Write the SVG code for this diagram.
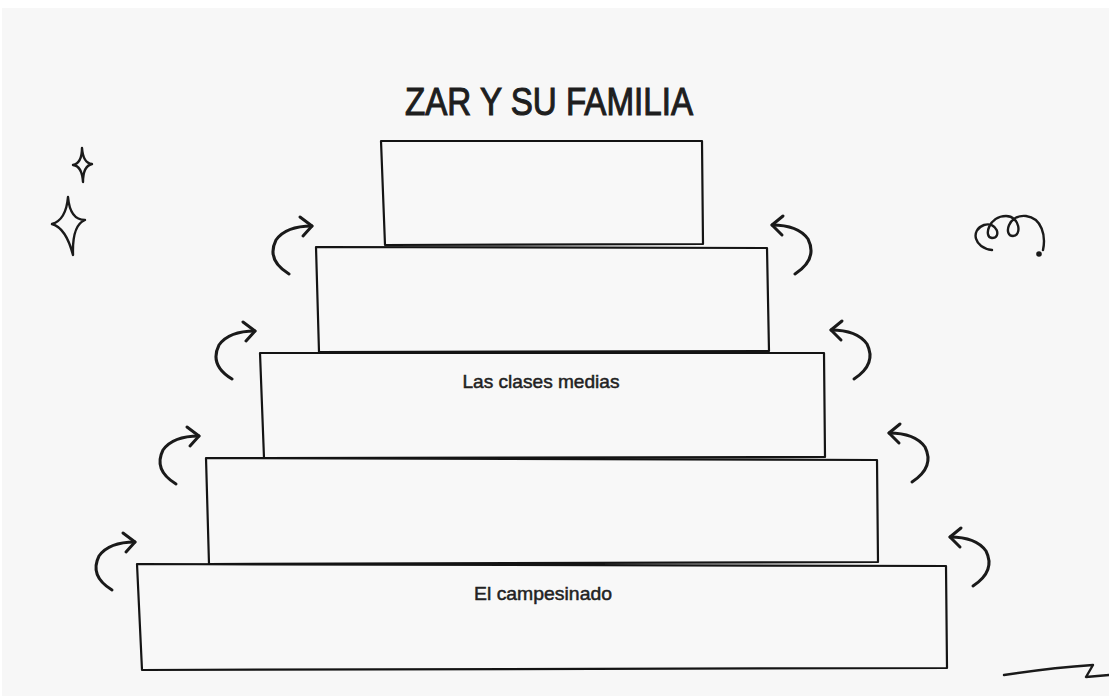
<svg xmlns="http://www.w3.org/2000/svg" width="1109" height="696" viewBox="0 0 1109 696">
<defs>
<style>
.box{fill:#f8f8f8;stroke:#141414;stroke-width:2.2;stroke-linejoin:round}
.ink{fill:none;stroke:#1a1a1a;stroke-width:3;stroke-linecap:round;stroke-linejoin:round}
.lbl{font-family:"Liberation Sans",Arial,sans-serif;font-size:19px;fill:#222;text-anchor:middle;stroke:#222;stroke-width:0.5}
.title{font-family:"Liberation Sans",Arial,sans-serif;font-size:38px;fill:#1e1e1e;text-anchor:middle;stroke:#1e1e1e;stroke-width:1.1}
</style>
<g id="arrowL"><path d="M -23 48 Q -46 34 -36 14 Q -26 0 0 0"/><path d="M -12 -9 L 0 0 L -9 10"/></g>
<g id="arrowR"><path d="M 23 49 Q 46 34 36 14 Q 26 0 0 0"/><path d="M 11 -9 L 0 0 L 10 10"/></g>
</defs>
<rect x="0" y="0" width="1109" height="696" fill="#ffffff"/>
<rect x="2" y="8" width="1107" height="688" fill="#f7f7f7"/>

<text class="title" x="549" y="115" textLength="288" lengthAdjust="spacingAndGlyphs">ZAR Y SU FAMILIA</text>

<g id="node-1"><polygon class="box" points="381,141 702,141 703,244 385,245"/></g>
<g id="node-2"><polygon class="box" points="316,247 767,248 769,351 319,352"/></g>
<g id="node-3"><polygon class="box" points="260,353 824,353 825,457 264,458"/><text class="lbl" x="541" y="388" textLength="157" lengthAdjust="spacingAndGlyphs">Las clases medias</text></g>
<g id="node-4"><polygon class="box" points="206,458 877,460 878,562 209,564"/></g>
<g id="node-5"><polygon class="box" points="137,564 946,566 947,668 142,670"/><text class="lbl" x="543" y="600" textLength="138" lengthAdjust="spacingAndGlyphs">El campesinado</text></g>

<g id="connectors" class="ink">
<use href="#arrowL" transform="translate(312,226)"/>
<use href="#arrowL" transform="translate(255,331)"/>
<use href="#arrowL" transform="translate(199,436)"/>
<use href="#arrowL" transform="translate(135,542)"/>
<use href="#arrowR" transform="translate(772,225)"/>
<use href="#arrowR" transform="translate(831,330)"/>
<use href="#arrowR" transform="translate(889,433)"/>
<use href="#arrowR" transform="translate(950,537)"/>
</g>

<g id="decor" class="ink" style="stroke-width:2.4">
<path d="M82 148 Q83 163 92 164 Q83 166 83 182 Q82 166 73 165 Q82 163 82 148 Z"/>
<path d="M68 197 Q70 220 85 220 Q72 225 73 255 Q66 228 52 224 Q66 220 68 197 Z"/>
<path d="M992 250 C974 248 970 230 984 225 C997 221 1002 238 992 238 C983 237 989 216 1006 216 C1020 216 1022 236 1013 236 C1003 236 1008 214 1026 216 C1042 218 1046 236 1043 250"/>
<circle cx="1039" cy="254" r="1.6" fill="#1a1a1a"/>
<path d="M1004 675 Q1050 668 1093 665 L1086 677 L1109 675"/>
</g>
</svg>
